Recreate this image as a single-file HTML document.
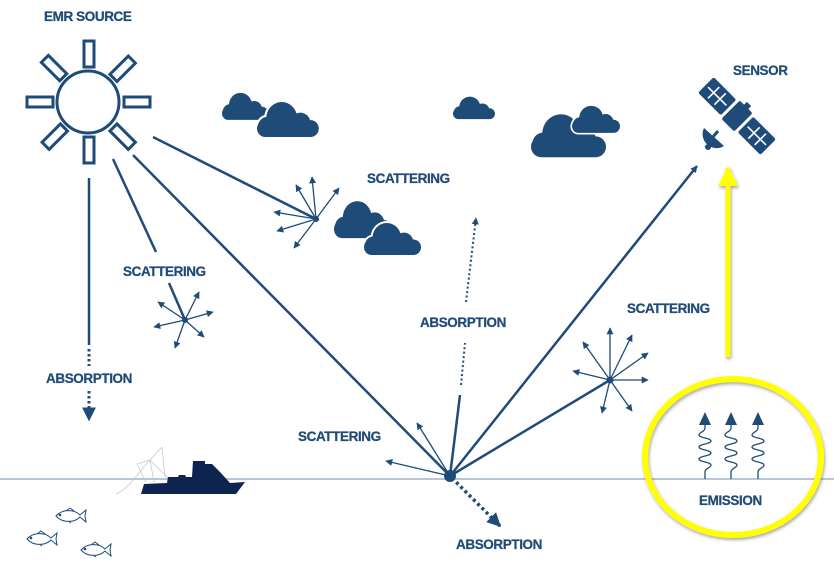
<!DOCTYPE html>
<html><head><meta charset="utf-8"><style>
html,body{margin:0;padding:0;background:#fff;}
svg{display:block;}
text{font-family:"Liberation Sans",sans-serif;font-weight:bold;font-size:13.5px;fill:#1f4b78;letter-spacing:-0.4px;stroke:#1f4b78;stroke-width:0.25px;}
</style></head><body>
<svg width="834" height="567" viewBox="0 0 834 567" xmlns="http://www.w3.org/2000/svg">
<defs>
<marker id="a" viewBox="0 0 10 10" refX="9" refY="5" markerWidth="7" markerHeight="7" orient="auto" markerUnits="userSpaceOnUse"><path d="M0,0L10,5L0,10z" fill="#1f4b78"/></marker>
<marker id="b" viewBox="0 0 10 10" refX="9" refY="5" markerWidth="14" markerHeight="14" orient="auto" markerUnits="userSpaceOnUse"><path d="M0,0L10,5L0,10z" fill="#1f4b78"/></marker>
<marker id="y" viewBox="0 0 10 10" refX="9" refY="5" markerWidth="20" markerHeight="20" orient="auto" markerUnits="userSpaceOnUse"><path d="M0,0L10,5L0,10z" fill="#ffff00"/></marker>
<g id="cs">
<rect x="0" y="18" width="60" height="16" rx="8"/>
<circle cx="24" cy="16" r="15"/>
<circle cx="42" cy="21" r="10"/>
<circle cx="10" cy="24" r="9"/>
</g>
<filter id="sh" x="-10%" y="-10%" width="120%" height="120%"><feDropShadow dx="1" dy="2" stdDeviation="1.5" flood-color="#000" flood-opacity="0.35"/></filter>
</defs>

<line x1="0" y1="479" x2="834" y2="479" stroke="#9fb3c8" stroke-width="1.5"/>

<!-- sun -->
<g fill="none" stroke="#1f4b78" stroke-width="3">
<circle cx="88" cy="102" r="31"/>
<rect x="84" y="41" width="10" height="26"/>
<rect x="84" y="137" width="10" height="26"/>
<rect x="27" y="97" width="26" height="10"/>
<rect x="124" y="97" width="26" height="10"/>
<g transform="rotate(45 88 102)">
<rect x="84" y="41" width="10" height="26"/>
<rect x="84" y="137" width="10" height="26"/>
<rect x="27" y="97" width="26" height="10"/>
<rect x="124" y="97" width="26" height="10"/>
</g>
</g>

<!-- clouds -->
<g fill="#1f4b78">
<g transform="translate(222 92) scale(0.77 0.82)"><use href="#cs"/></g>
<g transform="translate(257 101) scale(1.03 1.06)" stroke="#fff" stroke-width="4"><use href="#cs"/></g>
<g transform="translate(257 101) scale(1.03 1.06)"><use href="#cs"/></g>
<g transform="translate(453 96) scale(0.7 0.68)"><use href="#cs"/></g>
<g transform="translate(531 113) scale(1.25 1.3)"><use href="#cs"/></g>
<g transform="translate(572 105) scale(0.8 0.82)" stroke="#fff" stroke-width="4"><use href="#cs"/></g>
<g transform="translate(572 105) scale(0.8 0.82)"><use href="#cs"/></g>
<g transform="translate(334 200) scale(0.97 1.12)"><use href="#cs"/></g>
<g transform="translate(364 222) scale(0.95 0.97)" stroke="#fff" stroke-width="4"><use href="#cs"/></g>
<g transform="translate(364 222) scale(0.95 0.97)"><use href="#cs"/></g>
</g>

<!-- satellite -->
<g transform="translate(737 116) rotate(45)" fill="#1f4b78">
<rect x="-9" y="-13" width="18" height="26" rx="2"/>
<rect x="-3" y="-17" width="6" height="5"/>
<rect x="-44" y="-11" width="32" height="22" rx="2"/>
<rect x="12" y="-11" width="32" height="22" rx="2"/>
<g stroke="#fff" stroke-width="1.6">
<line x1="-41" y1="0" x2="-15" y2="0"/><line x1="-33" y1="-8" x2="-33" y2="8"/><line x1="-24" y1="-8" x2="-24" y2="8"/>
<line x1="15" y1="0" x2="41" y2="0"/><line x1="24" y1="-8" x2="24" y2="8"/><line x1="33" y1="-8" x2="33" y2="8"/>
</g>
</g>
<g fill="#1f4b78">
<path d="M704,128 A14,14 0 0 0 724,146 Z"/>
<line x1="712" y1="138" x2="718" y2="131" stroke="#1f4b78" stroke-width="3"/>
<circle cx="708" cy="147" r="3"/>
</g>

<!-- main rays -->
<g stroke="#1f4b78" stroke-width="2.5" fill="none">
<line x1="153" y1="137" x2="316" y2="219"/>
<line x1="113" y1="159" x2="156" y2="252"/>
<line x1="133" y1="155" x2="450" y2="476"/>
<line x1="89" y1="178" x2="89" y2="345"/>
<line x1="89" y1="349" x2="89" y2="366" stroke-dasharray="2.5 2.5" stroke-width="3"/>
<line x1="89" y1="391" x2="89" y2="420" stroke-dasharray="2.5 2.5" stroke-width="3" marker-end="url(#b)"/>
<line x1="450" y1="476" x2="460" y2="395"/>
<line x1="461" y1="385" x2="465" y2="343" stroke-dasharray="2 2.5" stroke-width="2"/>
<line x1="466" y1="302" x2="476" y2="218" stroke-dasharray="2 2.5" stroke-width="2" marker-end="url(#a)"/>
<line x1="450" y1="476" x2="697" y2="166" marker-end="url(#a)"/>
<line x1="450" y1="476" x2="610" y2="380"/>
<line x1="452" y1="478" x2="500" y2="526" stroke-dasharray="3 3" stroke-width="3.5" marker-end="url(#b)"/>
<line x1="169" y1="283" x2="185" y2="320"/>
</g>

<!-- scatter stars -->
<g stroke="#1f4b78" stroke-width="1.3" marker-end="url(#a)">
<line x1="316" y1="219" x2="312" y2="177"/>
<line x1="316" y1="219" x2="296" y2="185"/>
<line x1="316" y1="219" x2="339" y2="188"/>
<line x1="316" y1="219" x2="274" y2="212"/>
<line x1="316" y1="219" x2="277" y2="231"/>
<line x1="316" y1="219" x2="294" y2="248"/>
<line x1="185" y1="320" x2="158" y2="302"/>
<line x1="185" y1="320" x2="199" y2="292"/>
<line x1="185" y1="320" x2="213" y2="312"/>
<line x1="185" y1="320" x2="154" y2="327"/>
<line x1="185" y1="320" x2="204" y2="337"/>
<line x1="185" y1="320" x2="175" y2="348"/>
<line x1="610" y1="380" x2="610" y2="328"/>
<line x1="610" y1="380" x2="632" y2="335"/>
<line x1="610" y1="380" x2="648" y2="353"/>
<line x1="610" y1="380" x2="648" y2="380"/>
<line x1="610" y1="380" x2="632" y2="411"/>
<line x1="610" y1="380" x2="602" y2="413"/>
<line x1="610" y1="380" x2="573" y2="371"/>
<line x1="610" y1="380" x2="583" y2="342"/>
<line x1="450" y1="476" x2="386" y2="461"/>
<line x1="450" y1="476" x2="417" y2="423"/>
</g>
<g fill="#1f4b78">
<circle cx="316" cy="219" r="3"/>
<circle cx="185" cy="320" r="3"/>
<circle cx="610" cy="380" r="3.5"/>
<circle cx="450" cy="476" r="6"/>
</g>

<!-- boat -->
<g stroke="#c8c8c8" stroke-width="0.8" fill="none">
<path d="M116,494 C130,488 140,470 150,460 L162,447"/>
<path d="M150,460 L168,478 M150,460 L154,482 M162,447 L165,477 M137,464 L150,460 M137,464 L146,482"/>
</g>
<polygon fill="#0d2350" points="141,494 144,484 167,483 168,477 178,477 179,475 185,475 186,477 192,477 193,461 205,461 205,464 212,464 220,472 230,483 245,482 236,494"/>

<!-- fish -->
<g fill="none" stroke="#1f4b78" stroke-width="1">
<g transform="translate(56 516)"><path d="M0,0 C6,-7 18,-7 24,-1 L30,-6 L29,0 L30,6 L24,1 C18,7 6,7 0,0 Z M10,-5 L14,-8 L18,-5 M12,5 L15,7"/><circle cx="4" cy="-1" r="0.8" fill="#1f4b78"/></g>
<g transform="translate(27 539)"><path d="M0,0 C6,-7 18,-7 24,-1 L30,-6 L29,0 L30,6 L24,1 C18,7 6,7 0,0 Z M10,-5 L14,-8 L18,-5 M12,5 L15,7"/><circle cx="4" cy="-1" r="0.8" fill="#1f4b78"/></g>
<g transform="translate(81 550)"><path d="M0,0 C6,-7 18,-7 24,-1 L30,-6 L29,0 L30,6 L24,1 C18,7 6,7 0,0 Z M10,-5 L14,-8 L18,-5 M12,5 L15,7"/><circle cx="4" cy="-1" r="0.8" fill="#1f4b78"/></g>
</g>

<!-- emission -->
<g filter="url(#sh)">
<ellipse cx="733" cy="457" rx="88" ry="78" fill="none" stroke="#ffff00" stroke-width="6"/>
<line x1="728" y1="357" x2="728" y2="168" stroke="#ffff00" stroke-width="5" marker-end="url(#y)"/>
</g>
<g fill="none" stroke="#1f4b78" stroke-width="1.3">
<path d="M705,479 L705,472 C705,468 711,468 711,465 C711,462 699,462 699,459 C699,456 711,456 711,453 C711,450 699,450 699,447 C699,444 711,444 711,441 C711,438 699,438 699,435 C699,432 705,432 705,428 L705,424"/>
<path d="M731,479 L731,472 C731,468 737,468 737,465 C737,462 725,462 725,459 C725,456 737,456 737,453 C737,450 725,450 725,447 C725,444 737,444 737,441 C737,438 725,438 725,435 C725,432 731,432 731,428 L731,424"/>
<path d="M758,479 L758,472 C758,468 764,468 764,465 C764,462 752,462 752,459 C752,456 764,456 764,453 C764,450 752,450 752,447 C752,444 764,444 764,441 C764,438 752,438 752,435 C752,432 758,432 758,428 L758,424"/>
</g>
<g fill="#1f4b78">
<polygon points="705,412 699,425 711,425"/>
<polygon points="731,412 725,425 737,425"/>
<polygon points="758,412 752,425 764,425"/>
</g>

<!-- labels -->
<text x="44" y="21">EMR SOURCE</text>
<text x="733" y="75">SENSOR</text>
<text x="367" y="183">SCATTERING</text>
<text x="123" y="276">SCATTERING</text>
<text x="627" y="313">SCATTERING</text>
<text x="420" y="327">ABSORPTION</text>
<text x="46" y="383">ABSORPTION</text>
<text x="298" y="441">SCATTERING</text>
<text x="456" y="549">ABSORPTION</text>
<text x="699" y="505">EMISSION</text>
</svg>
</body></html>
